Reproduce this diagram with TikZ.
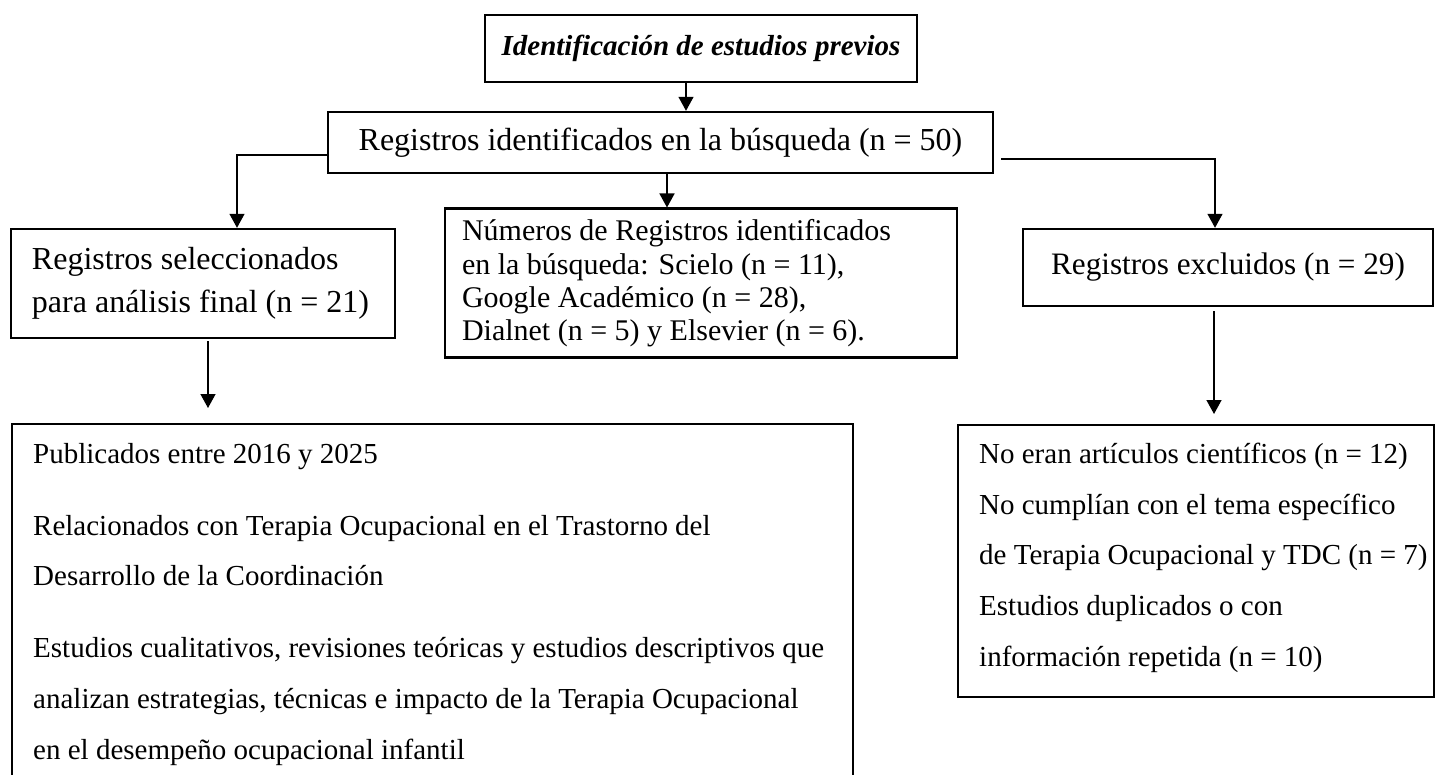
\documentclass[tikz,border=0pt]{standalone}
\usepackage{fontspec}
\setmainfont{Liberation Serif}
\usetikzlibrary{arrows.meta}

\begin{document}
\begin{tikzpicture}[x=0.5pt, y=-0.5pt,
        caja/.style={draw, line width=1.2pt, inner sep=0pt},
        lineas/.style={caja, align=flush left, execute at begin node={\spaceskip=0pt\xspaceskip=0pt}},
        lista/.style={lineas, font=\fontsize{14.5}{25.4}\selectfont},
        flecha/.style={-{Triangle[width=7.5pt,length=7pt]}, line width=0.7pt}]
        \useasboundingbox (0,0) rectangle (1440,775);
        \clip (0,0) rectangle (1440,775);
        \node[caja, minimum width=216pt, minimum height=33.5pt, font=\fontsize{14.5}{17}\selectfont\bfseries\itshape] (Titulo) at (701,48.5) {Identificación de estudios previos};
        \node[caja, minimum width=332.5pt, minimum height=30.5pt, font=\fontsize{16}{19}\selectfont] (Registros) at (660.5,142.5) {Registros identificados en la búsqueda (n = 50)};
        \node[lineas, inner xsep=10.5pt, text width=171pt, minimum height=54.5pt, font=\fontsize{16}{21.5}\selectfont] (Seleccion) at (203,283.5) {Registros seleccionados\\para análisis final (n = 21)\par};
        \node[lineas, inner xsep=8.5pt, inner ysep=5.5pt, text width=239pt, text height=10.5pt, text depth=52.8pt, font=\fontsize{15}{16.7}\selectfont] (Fuentes) at (701,283) {Números de Registros identificados\\en la búsqueda: Scielo (n = 11),\\Google Académico (n = 28),\\Dialnet (n = 5) y Elsevier (n = 6).\par};
        \node[caja, minimum width=205pt, minimum height=38.5pt, font=\fontsize{15.6}{19}\selectfont] (Excluidos) at (1228,267.5) {Registros excluidos (n = 29)};
        \node[lista, anchor=north west, inner xsep=10.5pt, inner ysep=9.5pt, text width=399.5pt, text depth=170pt] (Criterios) at (11,423) {Publicados entre 2016 y 2025\\[10.5pt]
            Relacionados con Terapia Ocupacional en el Trastorno del\\
            Desarrollo de la Coordinación\\[10.5pt]
            Estudios cualitativos, revisiones teóricas y estudios descriptivos que\\
            analizan estrategias, técnicas e impacto de la Terapia Ocupacional\\
            en el desempeño ocupacional infantil\par};
        \node[lista, anchor=north west, inner ysep=9pt, text width=238pt, text height=10pt, text depth=108pt] (Motivos) at (957,424) {\leftskip=10.5pt No eran artículos científicos (n = 12)\\
            No cumplían con el tema específico\\
            de Terapia Ocupacional y TDC (n = 7)\\
            Estudios duplicados o con\\
            información repetida (n = 10)\par};
        \draw[flecha] ([xshift=-7.5pt]Titulo.south) -- ([xshift=-7.5pt]Titulo.south |- Registros.north);
        \draw[flecha] ([yshift=-6.25pt]Registros.west) -| ([xshift=17pt]Seleccion.north);
        \draw[flecha] ([xshift=3.25pt]Registros.south) -- ([xshift=3.25pt]Registros.south |- Fuentes.north);
        \draw[flecha, shorten <=3.5pt] ([yshift=-8.25pt]Registros.east) -| ([xshift=-6.5pt]Excluidos.north);
        \draw[flecha, shorten <=1pt, shorten >=7.5pt] ([xshift=2.5pt]Seleccion.south) -- ([xshift=2.5pt]Seleccion.south |- Criterios.north);
        \draw[flecha, shorten <=2pt, shorten >=5pt] ([xshift=-7pt]Excluidos.south) -- ([xshift=-7pt]Excluidos.south |- Motivos.north);
\end{tikzpicture}
\end{document}
